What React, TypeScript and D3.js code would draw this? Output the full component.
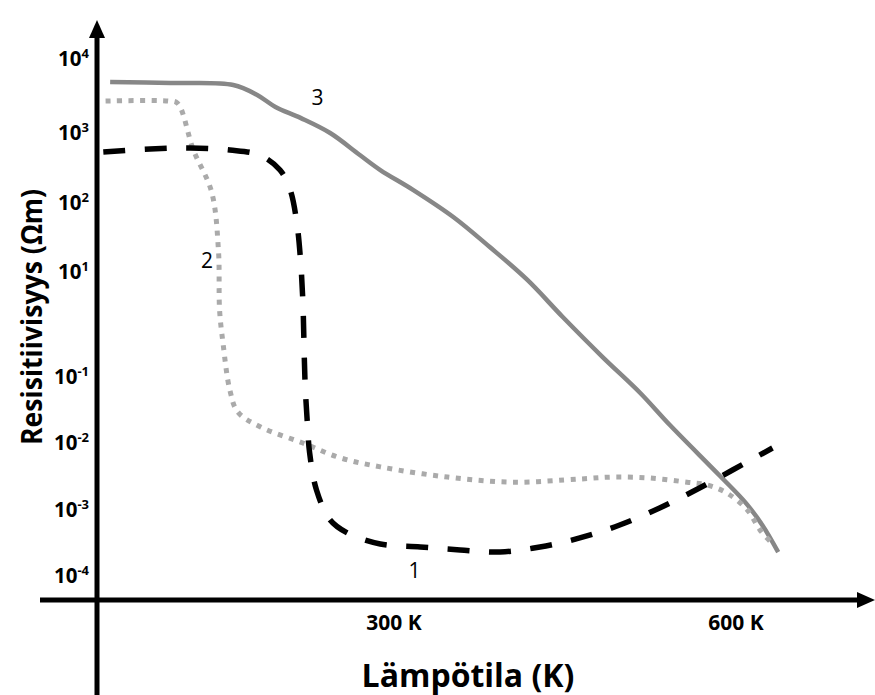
import React, { useRef, useEffect } from 'react';
import * as d3 from 'd3';

// käyrä 1: musta katkoviiva
const curve1T = [45, 86, 121, 156, 182, 200, 209, 215, 218, 220, 222, 224, 226, 232, 244, 259, 288, 323, 358, 393, 428, 463, 498, 533, 568, 597, 632];
const curve1Rho = [535, 591, 611, 571, 485, 296, 153, 48, 14.9, 2.93, 0.0811, 0.0201, 0.0071, 0.00199, 0.000705, 0.000449, 0.000305, 0.000275, 0.000248, 0.000231, 0.000275, 0.000377, 0.000593, 0.00107, 0.00213, 0.00395, 0.00842];

// käyrä 2: harmaa pisteviiva
const curve2T = [47, 102, 110, 124, 140, 146, 147, 150, 156, 163, 183, 220, 253, 288, 347, 404, 463, 492, 525, 557, 575, 592, 610, 621, 633];
const curve2Rho = [2700, 2700, 2540, 571, 144, 20.8, 1.89, 0.445, 0.0635, 0.0295, 0.0175, 0.01, 0.006, 0.0044, 0.0031, 0.0026, 0.0029, 0.0031, 0.003, 0.0026, 0.00236, 0.00179, 0.001, 0.0005, 0.000295];

// käyrä 3: harmaa yhtenäinen
const curve3T = [51, 104, 159, 180, 196, 218, 244, 270, 288, 317, 352, 384, 417, 448, 483, 516, 542, 586, 608, 623, 637];
const curve3Rho = [4890, 4740, 4460, 3270, 2250, 1600, 1000, 485, 296, 153, 62.7, 23, 7.05, 1.39, 0.24, 0.0573, 0.0187, 0.00322, 0.00131, 0.000593, 0.00023];

const curveNames = ['1', '2', '3'];
const labelT = [318, 136, 233];
const labelRho = [0.000123, 14.9, 3060];

const yTickExponents = [4, 3, 2, 1, -1, -2, -3, -4];
const xTickValues = [300, 600];
const xTickLabels = ['300 K', '600 K'];

const W = 875;
const H = 695;
const axisX = 97;
const axisY = 600;
const font = "'Open Sans', 'DejaVu Sans', sans-serif";

const App = () => {
    const svgRef = useRef(null);

    useEffect(() => {
        const svg = d3.select(svgRef.current);
        svg.selectAll('*').remove();

        const xScale = d3.scaleLinear().domain([300, 600]).range([394, 736]);
        // käsin piirretty akseli: 10^0 puuttuu, välit eivät ole tasaisia
        const yScale = d3.scaleLog()
            .domain(yTickExponents.map(e => Math.pow(10, e)))
            .range([59, 133, 203, 272, 377, 443, 510, 576]);

        const line = d3.line()
            .x(d => xScale(d[0]))
            .y(d => yScale(d[1]))
            .curve(d3.curveCatmullRom.alpha(0.5));

        const zip = (a, b) => a.map((v, i) => [v, b[i]]);

        // akselit
        svg.append('line')
            .attr('x1', 40).attr('x2', W - 14)
            .attr('y1', axisY).attr('y2', axisY)
            .attr('stroke', '#000').attr('stroke-width', 5);
        svg.append('path')
            .attr('d', `M${W},${axisY} L${W - 18},${axisY - 8} L${W - 18},${axisY + 8} Z`)
            .attr('fill', '#000');

        svg.append('line')
            .attr('x1', axisX).attr('x2', axisX)
            .attr('y1', H).attr('y2', 34)
            .attr('stroke', '#000').attr('stroke-width', 5);
        svg.append('path')
            .attr('d', `M${axisX},20 L${axisX - 8},38 L${axisX + 8},38 Z`)
            .attr('fill', '#000');

        // y-tikit
        const yt = svg.append('g')
            .style('font-family', font)
            .style('font-weight', 'bold');
        yTickExponents.forEach(e => {
            const t = yt.append('text')
                .attr('x', 89)
                .attr('y', yScale(Math.pow(10, e)) + 7)
                .attr('text-anchor', 'end')
                .style('font-size', '20.5px');
            t.append('tspan').text('10');
            t.append('tspan')
                .attr('dy', -8)
                .style('font-size', '13px')
                .text(`${e}`);
        });

        // x-tikit
        svg.selectAll('.x-tick')
            .data(xTickValues)
            .enter()
            .append('text')
            .attr('class', 'x-tick')
            .attr('x', d => xScale(d))
            .attr('y', 630)
            .attr('text-anchor', 'middle')
            .style('font-family', font)
            .style('font-weight', 'bold')
            .style('font-size', '21px')
            .text((d, i) => xTickLabels[i]);

        // akselien otsikot
        svg.append('text')
            .attr('x', 468)
            .attr('y', 687)
            .attr('text-anchor', 'middle')
            .style('font-family', font)
            .style('font-weight', 'bold')
            .style('font-size', '32px')
            .text('Lämpötila (K)');

        svg.append('text')
            .attr('transform', 'translate(42, 317) rotate(-90)')
            .attr('text-anchor', 'middle')
            .style('font-family', font)
            .style('font-weight', 'bold')
            .style('font-size', '28px')
            .attr('textLength', 256)
            .attr('lengthAdjust', 'spacingAndGlyphs')
            .text('Resisitiivisyys (Ωm)');

        // käyrät
        svg.append('path')
            .attr('d', line(zip(curve3T, curve3Rho)))
            .attr('fill', 'none')
            .attr('stroke', '#878787')
            .attr('stroke-width', 4.5);

        svg.append('path')
            .attr('d', line(zip(curve2T, curve2Rho)))
            .attr('fill', 'none')
            .attr('stroke', '#aaaaaa')
            .attr('stroke-width', 5)
            .attr('stroke-dasharray', '5,6.5');

        svg.append('path')
            .attr('d', line(zip(curve1T, curve1Rho)))
            .attr('fill', 'none')
            .attr('stroke', '#000')
            .attr('stroke-width', 5.5)
            .attr('stroke-dasharray', '22,19.5');

        // käyrien numerot
        svg.selectAll('.curve-label')
            .data(curveNames)
            .enter()
            .append('text')
            .attr('class', 'curve-label')
            .attr('x', (d, i) => xScale(labelT[i]))
            .attr('y', (d, i) => yScale(labelRho[i]))
            .attr('dy', '0.36em')
            .attr('text-anchor', 'middle')
            .style('font-family', font)
            .style('font-size', '21px')
            .style('fill', '#000')
            .text(d => d);
    }, []);

    return (
        <svg
            ref={svgRef}
            width={W}
            height={H}
            style={{ position: 'absolute', left: 0, top: 0, background: '#fff' }}
        ></svg>
    );
};

export default App;
